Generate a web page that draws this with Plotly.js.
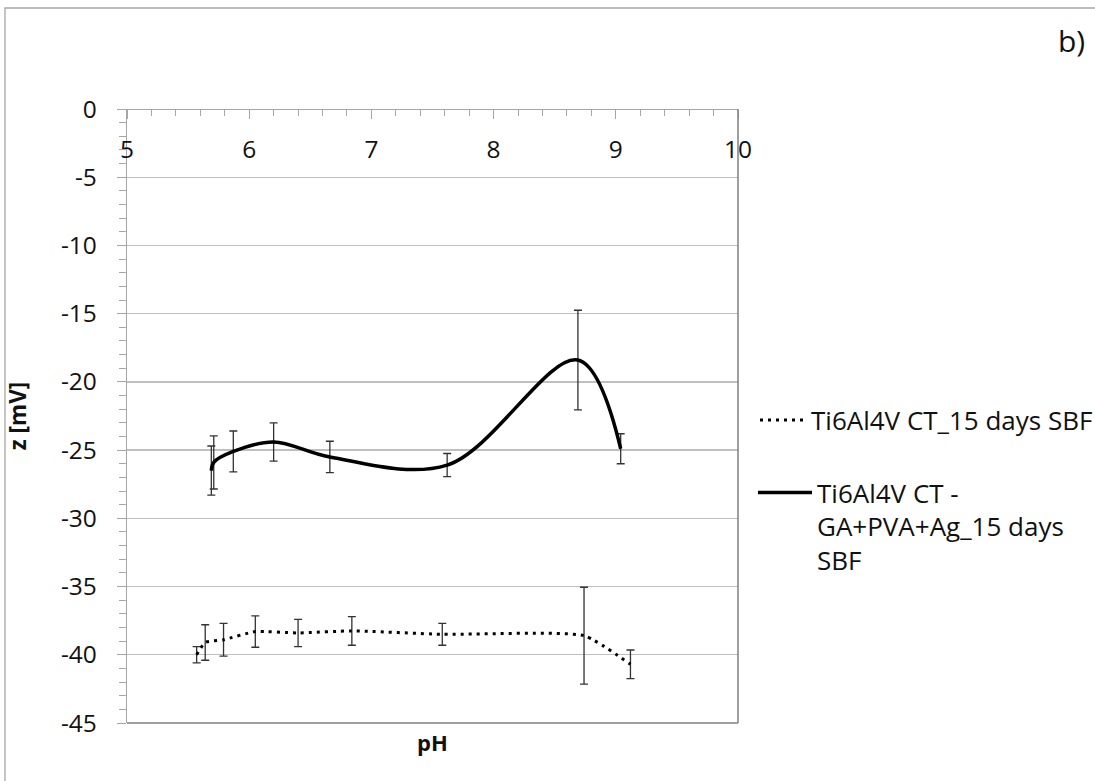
<!DOCTYPE html>
<html>
<head>
<meta charset="utf-8">
<script src="https://cdn.plot.ly/plotly-3.0.1.min.js"></script>
<style>html,body{margin:0;padding:0;background:#fff;}#chart{width:1095px;height:781px;}</style>
</head>
<body>
<div id="chart"></div>
<script>
// Ti6Al4V CT_15 days SBF (dotted)
const phDot  = [5.57, 5.64, 5.79, 6.05, 6.40, 6.84, 7.58, 8.74, 9.12];
const zDot   = [-40.0, -39.1, -38.9, -38.3, -38.4, -38.25, -38.5, -38.6, -40.7];
const errDot = [0.6, 1.3, 1.2, 1.15, 1.0, 1.05, 0.8, 3.55, 1.05];

// Ti6Al4V CT - GA+PVA+Ag_15 days SBF (solid)
const phSolid  = [5.69, 5.71, 5.87, 6.20, 6.66, 7.62, 8.69, 9.04];
const zSolid   = [-26.5, -25.9, -25.1, -24.4, -25.5, -26.1, -18.4, -24.9];
const errSolid = [1.8, 1.95, 1.5, 1.4, 1.15, 0.85, 3.65, 1.1];

const nameDot = 'Ti6Al4V CT_15 days SBF';
const nameSolid = 'Ti6Al4V CT -<br>GA+PVA+Ag_15 days<br>SBF';

const xTicks = [5, 6, 7, 8, 9, 10];
const yTicks = [0, -5, -10, -15, -20, -25, -30, -35, -40, -45];

const FONT = 'Open Sans, Noto Sans, sans-serif';
const TXT = '#111';

const traces = [
  {
    x: phDot, y: zDot, name: nameDot, type: 'scatter', mode: 'lines',
    line: {color: '#000', width: 3, dash: '3px,5px', shape: 'spline', smoothing: 0.5},
    error_y: {type: 'data', array: errDot, visible: true, color: '#333', thickness: 1.3, width: 4},
    legend: 'legend', hoverinfo: 'x+y'
  },
  {
    x: phSolid, y: zSolid, name: nameSolid, type: 'scatter', mode: 'lines',
    line: {color: '#000', width: 3.5, shape: 'spline', smoothing: 1},
    error_y: {type: 'data', array: errSolid, visible: true, color: '#333', thickness: 1.3, width: 4},
    legend: 'legend2', hoverinfo: 'x+y'
  },
  {
    // carrier for the bottom axis that holds the "pH" title
    x: phSolid, y: zSolid, xaxis: 'x2', yaxis: 'y', type: 'scatter', mode: 'none',
    showlegend: false, hoverinfo: 'skip'
  }
];

const L = 127, R = 738, T = 109, B = 723;
const W = R - L, H = B - T;
const px = v => (v - L) / W;
const py = v => (B - v) / H;

const layout = {
  width: 1095, height: 781,
  margin: {l: L, r: 1095 - R, t: T, b: 781 - B, autoexpand: false},
  paper_bgcolor: '#fff', plot_bgcolor: '#fff',
  font: {family: FONT, color: TXT, size: 25},
  showlegend: true,
  xaxis: {
    range: [5, 10], anchor: 'free', position: 1, side: 'bottom',
    tickvals: xTicks, ticktext: xTicks.map(String),
    ticks: 'outside', ticklen: 9, tickcolor: '#a6a6a6', tickwidth: 1,
    minor: {dtick: 0.2, ticks: 'outside', ticklen: 6, tickcolor: '#a6a6a6', showgrid: false},
    ticklabelstandoff: 9,
    showline: true, linecolor: '#a6a6a6', linewidth: 1.3,
    showgrid: false, zeroline: false,
    tickfont: {size: 24.5, family: FONT, color: TXT}
  },
  xaxis2: {
    overlaying: 'x', matches: 'x', side: 'bottom', anchor: 'y',
    showticklabels: false, ticks: '', showline: false, showgrid: false, zeroline: false,
    title: {text: '<b>pH</b>', font: {size: 22, family: FONT, color: TXT}, standoff: 12}
  },
  yaxis: {
    range: [-45, 0],
    tickvals: yTicks, ticktext: yTicks.map(String),
    ticks: 'outside', ticklen: 9, tickcolor: '#a6a6a6', tickwidth: 1,
    minor: {dtick: 1, ticks: 'outside', ticklen: 7, tickcolor: '#a6a6a6', showgrid: false},
    ticklabelstandoff: 15,
    showline: true, linecolor: '#a6a6a6', linewidth: 1.3,
    showgrid: true, gridcolor: '#bfbfbf', gridwidth: 1.3, zeroline: false,
    tickfont: {size: 24.5, family: FONT, color: TXT},
    title: {text: '<b>z [mV]</b>', font: {size: 22.5, family: FONT, color: TXT}, standoff: 28}
  },
  legend: {
    x: px(755), y: py(420), xanchor: 'left', yanchor: 'middle',
    xref: 'paper', yref: 'paper',
    font: {size: 26, family: FONT, color: TXT}, bgcolor: 'rgba(0,0,0,0)',
    itemwidth: 46, itemclick: false, valign: 'middle'
  },
  legend2: {
    x: px(753), y: py(469), xanchor: 'left', yanchor: 'top',
    xref: 'paper', yref: 'paper',
    font: {size: 26, family: FONT, color: TXT}, bgcolor: 'rgba(0,0,0,0)',
    itemwidth: 54, itemclick: false, valign: 'top'
  },
  shapes: [
    {type: 'line', xref: 'paper', yref: 'paper', x0: 0, x1: 1, y0: 0, y1: 0, line: {color: '#7f7f7f', width: 1.5}},
    {type: 'line', xref: 'paper', yref: 'paper', x0: 1, x1: 1, y0: 0, y1: 1, line: {color: '#7f7f7f', width: 1.5}},
    {type: 'rect', xref: 'paper', yref: 'paper', x0: px(5), x1: px(1110), y0: py(800), y1: py(8), line: {color: '#a6a6a6', width: 1.3}, fillcolor: 'rgba(0,0,0,0)'}
  ],
  annotations: [
    {text: 'b)', xref: 'paper', yref: 'paper', x: px(1071), y: py(41), xanchor: 'center', yanchor: 'middle', showarrow: false, font: {size: 30, family: FONT, color: TXT}}
  ]
};

Plotly.newPlot('chart', traces, layout, {displayModeBar: false, staticPlot: true});
</script>
</body>
</html>
